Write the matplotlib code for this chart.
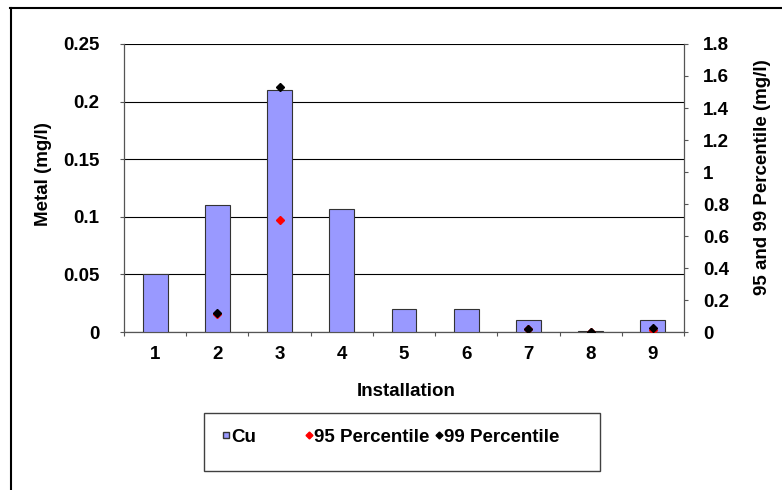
import numpy as np
import matplotlib
matplotlib.use('Agg')
import matplotlib.pyplot as plt
from matplotlib.lines import Line2D
from matplotlib.patches import Rectangle

plt.rcParams['font.family'] = ['Liberation Sans', 'DejaVu Sans']
plt.rcParams['font.weight'] = 'bold'

installations = [1, 2, 3, 4, 5, 6, 7, 8, 9]
cu = [0.05, 0.11, 0.21, 0.107, 0.02, 0.02, 0.01, 0.001, 0.01]
p95 = [np.nan, 0.11, 0.70, np.nan, np.nan, np.nan, 0.017, 0.002, 0.01]
p99 = [np.nan, 0.117, 1.53, np.nan, np.nan, np.nan, 0.018, 0.003, 0.023]
left_ticks = [0, 0.05, 0.1, 0.15, 0.2, 0.25]
right_ticks = [0, 0.2, 0.4, 0.6, 0.8, 1.0, 1.2, 1.4, 1.6, 1.8]

W, H = 782, 490
fs = 13.5
axcol = '#555555'

fig = plt.figure(figsize=(W / 100, H / 100), dpi=100)
ax = fig.add_axes([124 / W, 1 - 332 / H, 560 / W, 288 / H])

bars = ax.bar(installations, cu, width=0.4, color='#9999FF', edgecolor='#333333', linewidth=0.8, zorder=3)
ax.set_xlim(0.5, 9.5)
ax.set_ylim(0, 0.25)
ax.set_yticks(left_ticks)
ax.set_yticklabels(['{:g}'.format(v) for v in left_ticks])
ax.set_xticks(installations)
ax.set_xticks(np.arange(0.5, 10, 1), minor=True)
ax.tick_params(axis='x', which='major', length=0, pad=10, labelsize=fs)
ax.tick_params(axis='x', which='minor', length=2.9, width=0.8, color=axcol, direction='out')
ax.tick_params(axis='y', length=2.9, width=0.8, color=axcol, pad=15, labelsize=fs)
ax.yaxis.grid(True, color='black', linewidth=0.8)
ax.set_axisbelow(True)
for s in ['top', 'right']:
    ax.spines[s].set_visible(False)
for s in ['left', 'bottom']:
    ax.spines[s].set_color(axcol)
    ax.spines[s].set_linewidth(0.9)

ax.set_ylabel('Metal (mg/l)', fontsize=fs, fontweight='bold')
ax.yaxis.set_label_coords(-0.1438, 0.547)
ax.yaxis.label.set_va('center')
ax.set_xlabel('Installation', fontsize=fs, fontweight='bold')
ax.xaxis.set_label_coords(0.5036, -0.205)
ax.xaxis.label.set_va('center')

ax2 = ax.twinx()
ax2.set_ylim(0, 1.8)
ax2.set_yticks(right_ticks)
ax2.set_yticklabels(['{:g}'.format(v) for v in right_ticks])
ax2.tick_params(axis='y', length=3, width=0.8, color=axcol, pad=10.6, labelsize=fs)
for s in ['top', 'left', 'bottom']:
    ax2.spines[s].set_visible(False)
ax2.spines['right'].set_color(axcol)
ax2.spines['right'].set_linewidth(0.9)
ax2.plot(installations, p95, linestyle='none', marker='D', markersize=3.8, color='#FF0000', zorder=4)
ax2.plot(installations, p99, linestyle='none', marker='D', markersize=3.8, color='black', zorder=5)
ax2.set_ylabel('95 and 99 Percentile (mg/l)', fontsize=fs, fontweight='bold', rotation=90)
ax2.yaxis.set_label_coords(1.141, 0.538)
ax2.yaxis.label.set_va('center')

# legend box
fig.patches.append(Rectangle((204 / W, 1 - 471 / H), 396 / W, 58 / H, transform=fig.transFigure,
                             fill=False, edgecolor='#404040', linewidth=1.0))
handles = [
    Line2D([], [], linestyle='none', marker='s', markersize=4, markerfacecolor='#9999FF', markeredgecolor='#333333'),
    Line2D([], [], linestyle='none', marker='D', markersize=3.5, color='#FF0000'),
    Line2D([], [], linestyle='none', marker='D', markersize=3.5, color='black'),
]
labels = ['Cu', '95 Percentile', '99 Percentile']
xs = [222, 305, 435]
for h, lab, x in zip(handles, labels, xs):
    fig.legend([h], [lab], loc='center left', bbox_to_anchor=(x / W, 1 - 437 / H), frameon=False,
               fontsize=fs, handlelength=0.4, handletextpad=0.1, borderpad=0, borderaxespad=0)

# outer frame
fig.add_artist(Line2D([10 / W, 1], [1 - 8 / H, 1 - 8 / H], transform=fig.transFigure, color='black', linewidth=1.5))
fig.add_artist(Line2D([11 / W, 11 / W], [0, 1 - 8 / H], transform=fig.transFigure, color='black', linewidth=1.5))

fig.savefig('out.png', dpi=100)
